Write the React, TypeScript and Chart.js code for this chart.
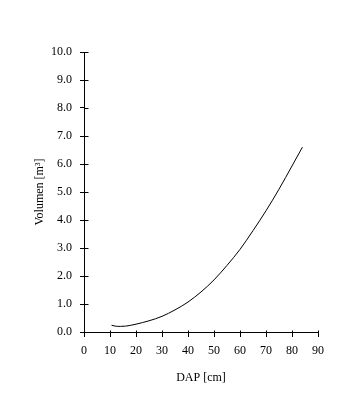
import React, { useEffect, useRef } from "react";
import { Chart, registerables } from "chart.js";

Chart.register(...registerables);

const dap: number[] = [10.6, 12, 14, 16, 18, 20, 25, 30, 35, 40, 45, 50, 55, 60, 65, 70, 75, 80, 84];
const volumen: number[] = [0.24, 0.21, 0.2, 0.21, 0.24, 0.28, 0.4, 0.56, 0.79, 1.07, 1.43, 1.86, 2.38, 2.95, 3.62, 4.33, 5.1, 5.93, 6.6];
const xTitle = "DAP [cm]";
const yTitle = "Volumen [m³]";

const FONT = "'Liberation Serif', 'Times New Roman', serif";

const innerTicks = {
  id: "innerTicks",
  afterDraw(chart: any) {
    const { ctx, chartArea, scales } = chart;
    ctx.save();
    ctx.strokeStyle = "#000";
    ctx.lineWidth = 1;
    ctx.beginPath();
    const ys = scales.y;
    ys.ticks.forEach((t: any) => {
      const py = Math.round(ys.getPixelForValue(t.value)) + 0.5;
      const lx = Math.round(chartArea.left) + 0.5;
      ctx.moveTo(lx, py);
      ctx.lineTo(lx + 4, py);
    });
    const xs = scales.x;
    xs.ticks.forEach((t: any) => {
      const px = Math.round(xs.getPixelForValue(t.value)) + 0.5;
      const by = Math.round(chartArea.bottom) + 0.5;
      ctx.moveTo(px, by);
      ctx.lineTo(px, by - 2);
    });
    ctx.stroke();
    ctx.restore();
  },
};

export default function App() {
  const ref = useRef<HTMLCanvasElement | null>(null);
  useEffect(() => {
    if (!ref.current) return;
    const chart = new Chart(ref.current, {
      type: "line",
      data: {
        datasets: [
          {
            data: dap.map((d, i) => ({ x: d, y: volumen[i] })),
            borderColor: "#000",
            borderWidth: 1,
            pointRadius: 0,
            fill: false,
            cubicInterpolationMode: "monotone",
          },
        ],
      },
      options: {
        animation: false,
        responsive: false,
        layout: { padding: { top: 52, right: 44, left: 0, bottom: 0 } },
        plugins: { legend: { display: false }, tooltip: { enabled: false } },
        scales: {
          x: {
            type: "linear",
            min: 0,
            max: 90,
            afterFit: (s: any) => {
              s.height = 82;
            },
            ticks: {
              stepSize: 10,
              color: "#000",
              padding: 7,
              maxRotation: 0,
              font: { family: FONT, size: 12 },
            },
            grid: { drawOnChartArea: false, drawTicks: true, tickLength: 5, color: "#000" },
            border: { display: true, color: "#000", width: 1 },
            title: {
              display: true,
              text: xTitle,
              color: "#000",
              font: { family: FONT, size: 12 },
              padding: { top: 4, bottom: 29 },
            },
          },
          y: {
            type: "linear",
            min: 0,
            max: 10,
            afterFit: (s: any) => {
              s.width = 84;
            },
            ticks: {
              stepSize: 1,
              color: "#000",
              padding: 8,
              font: { family: FONT, size: 12 },
              callback: (v: any) => Number(v).toFixed(1),
            },
            grid: { drawOnChartArea: false, drawTicks: true, tickLength: 4, color: "#000" },
            border: { display: true, color: "#000", width: 1 },
            title: {
              display: true,
              text: yTitle,
              color: "#000",
              font: { family: FONT, size: 12 },
              padding: { top: 33, bottom: 0 },
            },
          },
        },
      },
      plugins: [innerTicks],
    } as any);
    return () => chart.destroy();
  }, []);
  return (
    <div style={{ position: "fixed", left: 0, top: 0, width: 362, height: 414, background: "#fff" }}>
      <canvas ref={ref} width={362} height={414} style={{ display: "block", width: 362, height: 414 }} />
    </div>
  );
}
